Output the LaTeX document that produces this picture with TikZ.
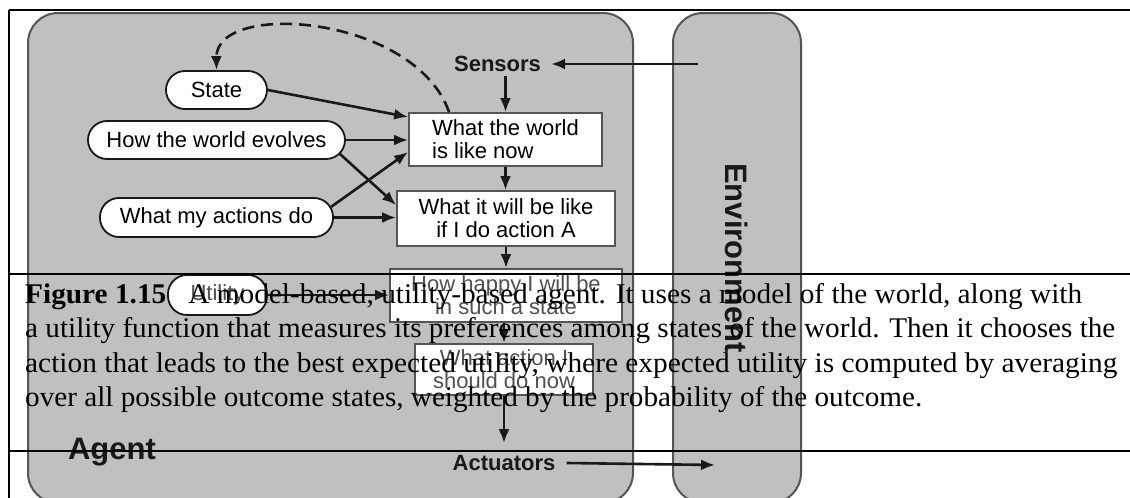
\documentclass[tikz,border=0pt]{standalone}
\usepackage{fontspec}
\usepackage{graphicx}
\setmainfont{Liberation Serif}
\setsansfont{Liberation Sans}
\usetikzlibrary{arrows.meta,calc}
\definecolor{agentgray}{RGB}{192,192,192}
\definecolor{edgegray}{RGB}{85,85,85}
\definecolor{ink}{RGB}{25,25,25}
\definecolor{fadeink}{RGB}{80,80,80}
\begin{document}
\begin{tikzpicture}[x=1pt,y=-1pt,
  oval/.style={draw=ink, line width=1.8pt, fill=white, rounded corners=19pt, inner sep=0pt,
    font=\sffamily\fontsize{22}{23}\selectfont},
  cbox/.style={draw=edgegray, line width=1.8pt, fill=white, inner sep=0pt, align=center,
    font=\sffamily\fontsize{22}{23}\selectfont},
  arr/.style={draw=ink, line width=2.6pt, -{Latex[length=14pt,width=11pt]}},
  lab/.style={font=\sffamily\bfseries\fontsize{22}{23}\selectfont, text=ink},
  biglab/.style={font=\sffamily\bfseries\fontsize{31}{33}\selectfont, text=ink, inner sep=0pt},
  shell/.style={fill=agentgray, draw=edgegray, line width=2pt, rounded corners=30pt},
  frameline/.style={draw=black, line width=1.3pt},
  captext/.style={anchor=base west, inner sep=0pt, font=\fontsize{28.5}{30}\selectfont}
]
\useasboundingbox (0,0) rectangle (1130,498);
\clip (0,0) rectangle (1130,498);

% shells
\draw[shell] (28,13) rectangle (633,503);
\draw[shell] (673,13) rectangle (801,503);

% labels
\node[biglab] (agentlab) at (112,452) {Agent};
\node[biglab, rotate=-90] (envlab) at (737,258) {Environment};
\node[lab, inner xsep=10pt, inner ysep=4pt] (sens) at (497.5,64) {Sensors};
\node[lab, inner xsep=11pt, inner ysep=12pt] (act) at (504,463) {Actuators};

% ovals
\node[oval, minimum width=101pt, minimum height=38pt] (st) at (216.5,90) {State};
\node[oval, minimum width=257pt, minimum height=38pt] (hw) at (216.5,140) {How the world evolves};
\node[oval, minimum width=233pt, minimum height=39pt] (ma) at (216.5,217.5) {What my actions do};
\node[oval, minimum width=99pt, minimum height=40pt, text=fadeink] (ut) at (217.5,295) {Utility};

% boxes
\node[cbox, minimum width=193pt, minimum height=53pt, align=left] (b1) at (505.5,139.5) {What the world\\is like now};
\node[cbox, minimum width=218pt, minimum height=55pt] (b2) at (506,218.5) {What it will be like\\if I do action A};
\node[cbox, minimum width=232pt, minimum height=53pt, text=fadeink] (b3) at (506,295.5) {How happy I will be\\in such a state};
\node[cbox, minimum width=178pt, minimum height=51pt, text=fadeink] (b4) at (504,369.5) {What action I\\should do now};

% free ends
\coordinate (envin) at (698,64);
\coordinate (envout) at (715,465);

% connectors
\draw[arr] (envin) -- (sens.east);
\draw[arr] (sens.south -| b1.north) -- (b1.north);
\draw[arr] (b1.south) -- (b1.south |- b2.north);
\draw[arr] (b2.south) -- (b2.south |- b3.north);
\draw[arr] (b3.south -| b4.north) -- (b4.north);
\draw[arr] (b4.south) -- (act.north);
\draw[arr] (act.east) -- (envout);

\draw[arr] (st.east) -- ($(b1.west)+(0,-22.5)$);
\draw[arr] (hw.east) -- (hw.east -| b1.west);
\draw[arr] ($(hw.east)+(-7,13)$) -- ($(b2.west)+(0,-13.5)$);
\draw[arr] ($(ma.east)+(-3,-10.5)$) -- ($(b1.west)+(0,12.5)$);
\draw[arr] (ma.east) -- (ma.east -| b2.west);
\draw[arr] (ut.east) -- (ut.east -| b3.west);

\draw[arr, dash pattern=on 12pt off 7pt] ($(b1.north west)+(41,0)$) .. controls (415,15) and (216,0) .. (st.north);

% frame lines
\draw[frameline, line width=2pt] (9,10) -- (1130,10);
\draw[frameline, line width=1.6pt] (9,10) -- (9,498);
\draw[frameline] (9,274) -- (1130,274);
\draw[frameline] (9,451) -- (1130,451);

% caption
\node[captext] (c1) at (25,303) {\resizebox{1057pt}{\height}{\textbf{Figure 1.15}\hspace{0.75em}A model-based, utility-based agent. It uses a model of the world, along with}};
\node[captext] (c2) at (25,337.5) {\resizebox{1090pt}{\height}{a utility function that measures its preferences among states of the world. Then it chooses the}};
\node[captext] (c3) at (25,372) {\resizebox{1092pt}{\height}{action that leads to the best expected utility, where expected utility is computed by averaging}};
\node[captext] (c4) at (25,406) {\resizebox{897pt}{\height}{over all possible outcome states, weighted by the probability of the outcome.}};
\end{tikzpicture}
\end{document}
